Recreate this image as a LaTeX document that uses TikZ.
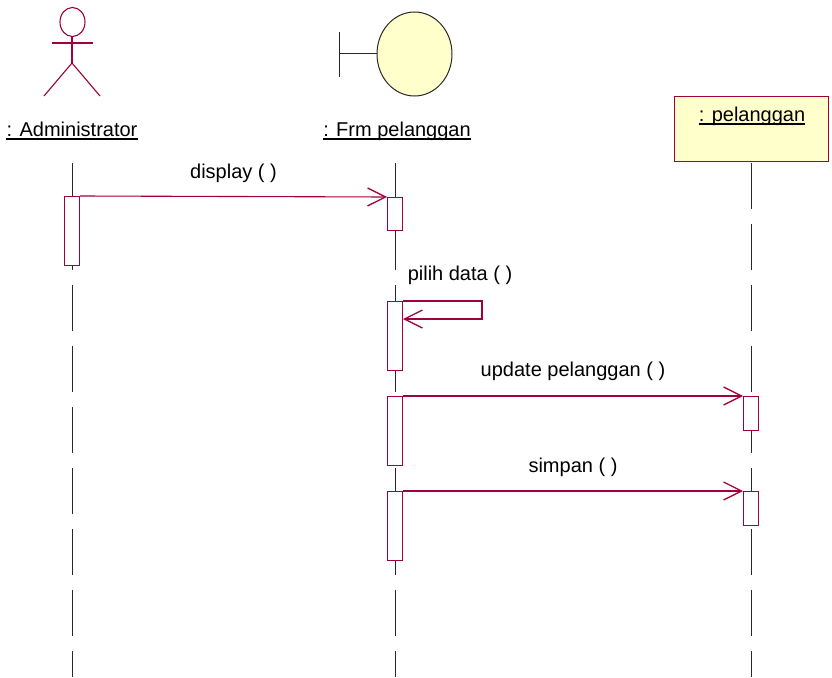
\documentclass[tikz,border=0pt]{standalone}
\usepackage{fontspec}
\setmainfont{Liberation Sans}
\usetikzlibrary{arrows.meta}
\definecolor{rose}{RGB}{160,0,60}
\definecolor{noteyellow}{RGB}{255,255,204}
\definecolor{lifegray}{RGB}{40,40,40}
\tikzset{
  lifeline/.style={draw=lifegray, line width=1pt, dash pattern=on 46pt off 15pt},
  actbox/.style={draw=rose, fill=white, line width=1pt, minimum width=15pt, inner sep=0pt, anchor=north},
  msg/.style={draw=rose, line width=1.1pt, -{Straight Barb[length=18pt, width=18pt, line width=1.3pt]}},
  rosebody/.style={draw=rose, line width=1.1pt},
  lbl/.style={inner sep=0pt, anchor=base, font=\fontsize{20}{24}\selectfont},
  uline/.style={draw=black, line width=2pt},
}
\begin{document}
\begin{tikzpicture}[x=1pt, y=-1pt]
\useasboundingbox (0,0) rectangle (832,677);

% ---- Actor: Administrator
\coordinate (act) at (72,0);
\draw[rosebody] (72.5,22) ellipse [x radius=12.5pt, y radius=14.5pt];
\draw[rosebody] (52,43) -- (93,43);
\draw[rosebody] (72,36.5) -- (72,63);
\draw[rosebody] (44,96) -- (72,63) -- (100,96);
\node[lbl] (admin) at (72,136) {: Administrator};
\draw[uline] ([yshift=-3pt]admin.base west) -- ([yshift=-3pt]admin.base east);

% ---- Boundary: Frm pelanggan
\draw[draw=lifegray, line width=1pt] (339,32) -- (339,77);
\draw[draw=lifegray, line width=1pt] (339,54) -- (377,54);
\draw[draw=lifegray, fill=noteyellow, line width=1pt] (414.5,54) ellipse [x radius=37.5pt, y radius=42pt];
\node[lbl] (frm) at (397,136) {: Frm pelanggan};
\draw[uline] ([yshift=-3pt]frm.base west) -- ([yshift=-3pt]frm.base east);

% ---- Entity object: pelanggan
\node[draw=rose, fill=noteyellow, line width=1pt, minimum width=154pt, minimum height=65pt, inner sep=0pt, anchor=north west] (pelbox) at (674,96) {};
\node[lbl] (pel) at (752,121) {: pelanggan};
\draw[uline] ([yshift=-3pt]pel.base west) -- ([yshift=-3pt]pel.base east);

% ---- Lifelines
\coordinate (l1top) at (72,163);
\coordinate (l1bot) at (72,677);
\coordinate (l2top) at (395,163);
\coordinate (l2bot) at (395,677);
\coordinate (l3top) at (751,161);
\coordinate (l3bot) at (751,677);
\draw[lifeline] (l1top) -- (l1bot);
\draw[lifeline] (l2top) -- (l2bot);
\draw[lifeline, dash phase=-2pt] (l3top) -- (l3bot);

% ---- Activation boxes
\node[actbox, minimum height=69pt] (a1) at (72,196) {};
\node[actbox, minimum height=33pt] (f1) at (395,197) {};
\node[actbox, minimum height=69pt] (f2) at (395,301) {};
\node[actbox, minimum height=69pt] (f3) at (395,396) {};
\node[actbox, minimum height=69pt] (f4) at (395,491) {};
\node[actbox, minimum height=34pt] (p1) at (751,396) {};
\node[actbox, minimum height=34pt] (p2) at (751,491) {};

% ---- Messages
\draw[msg] (a1.north east) -- node[lbl, midway, yshift=18pt] (m1) {display ( )} (f1.north west);
\draw[msg] (f2.north east) -- ++(79,0) |- ([yshift=-18pt]f2.north east);
\node[lbl] (m2) at (460,280) {pilih data ( )};
\draw[msg] (f3.north east) -- node[lbl, midway, yshift=20pt] (m3) {update pelanggan ( )} (p1.north west);
\draw[msg] (f4.north east) -- node[lbl, midway, yshift=19pt] (m4) {simpan ( )} (p2.north west);
\end{tikzpicture}
\end{document}
